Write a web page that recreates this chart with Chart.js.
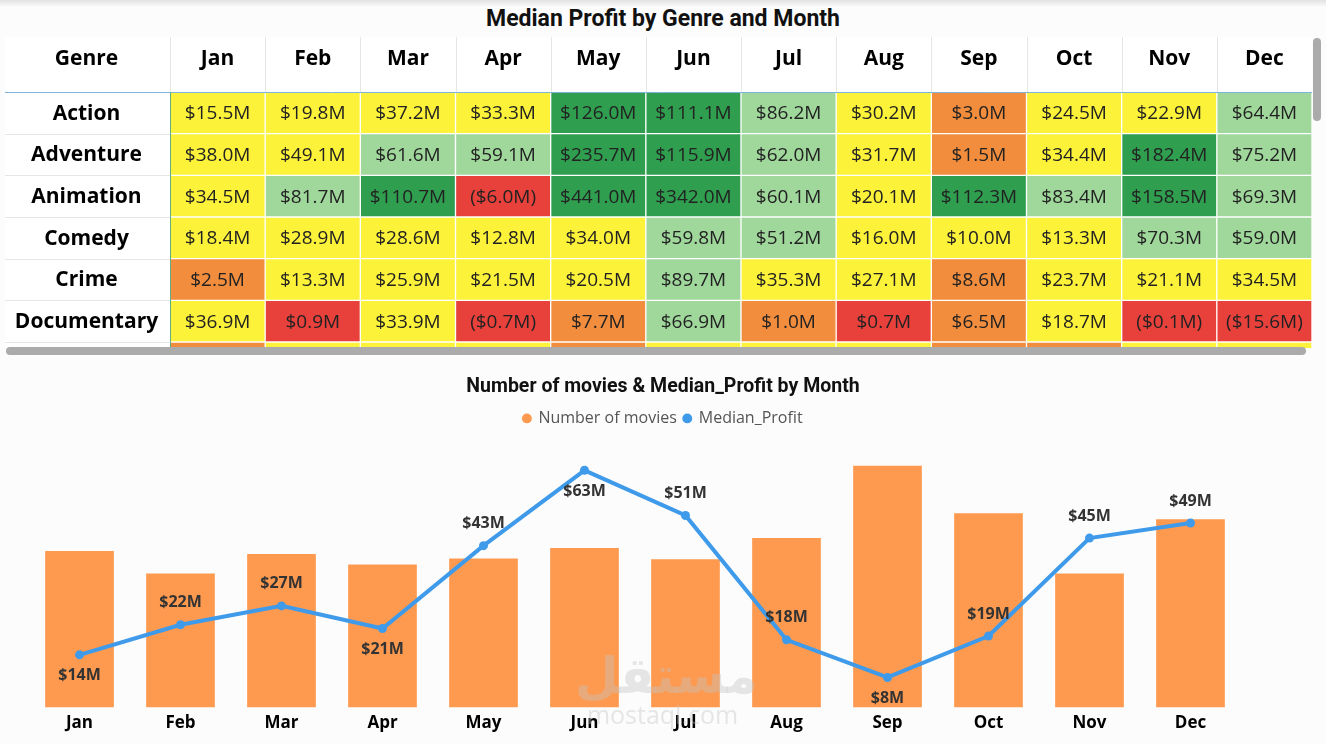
<!DOCTYPE html>
<html>
<head>
<meta charset="utf-8">
<title>Median Profit</title>
<script src="https://cdn.jsdelivr.net/npm/chart.js@4.4.1/dist/chart.umd.min.js"></script>
<style>
html, body { margin: 0; padding: 0; background: #fcfcfc; }
#page { position: relative; width: 1326px; height: 744px; overflow: hidden; background: #fcfcfc; }
#topShadow { position: absolute; left: 0; top: 0; width: 1326px; height: 7px; background: linear-gradient(#e2e2e2, #fcfcfc); }
#title1 { position: absolute; left: 0; top: 5px; width: 1326px; text-align: center; font: 700 23px Roboto, sans-serif; color: #111; }
#heatWrap { position: absolute; left: 5px; top: 37px; width: 1307px; height: 311px; overflow: hidden; background: #fff; }
#hscroll { position: absolute; left: 6px; top: 347px; width: 1300px; height: 8px; border-radius: 4px; background: #ababab; }
#vscroll { position: absolute; left: 1313px; top: 38px; width: 8px; height: 83px; border-radius: 4px; background: #ababab; }
#comboWrap { position: absolute; left: 0; top: 365px; width: 1326px; height: 379px; }
#wm { position: absolute; left: 575px; top: 648px; width: 175px; text-align: center; color: rgba(195,195,195,0.4); pointer-events: none; }
#wm .ar { font: 700 50px "DejaVu Sans", sans-serif; line-height: 56px; }
#wm .en { font: 400 25px "Open Sans", sans-serif; line-height: 20px; }
</style>
</head>
<body>
<div id="page">
  <div id="topShadow"></div>
  <div id="title1">Median Profit by Genre and Month</div>
  <div id="heatWrap"><canvas id="heatChart" width="1307" height="311"></canvas></div>
  <div id="hscroll"></div>
  <div id="vscroll"></div>
  <div id="comboWrap"><canvas id="comboChart" width="1326" height="379"></canvas></div>
  <div id="wm"><div class="ar">مستقل</div><div class="en">mostaql.com</div></div>
</div>
<script>
var months = ['Jan', 'Feb', 'Mar', 'Apr', 'May', 'Jun', 'Jul', 'Aug', 'Sep', 'Oct', 'Nov', 'Dec'];
var genres = ['Action', 'Adventure', 'Animation', 'Comedy', 'Crime', 'Documentary', 'Drama'];

// median profit in $M, one list per genre (Drama is only a sliver, guessed)
var action      = [15.5, 19.8, 37.2, 33.3, 126.0, 111.1, 86.2, 30.2, 3.0, 24.5, 22.9, 64.4];
var adventure   = [38.0, 49.1, 61.6, 59.1, 235.7, 115.9, 62.0, 31.7, 1.5, 34.4, 182.4, 75.2];
var animation   = [34.5, 81.7, 110.7, -6.0, 441.0, 342.0, 60.1, 20.1, 112.3, 83.4, 158.5, 69.3];
var comedy      = [18.4, 28.9, 28.6, 12.8, 34.0, 59.8, 51.2, 16.0, 10.0, 13.3, 70.3, 59.0];
var crime       = [2.5, 13.3, 25.9, 21.5, 20.5, 89.7, 35.3, 27.1, 8.6, 23.7, 21.1, 34.5];
var documentary = [36.9, 0.9, 33.9, -0.7, 7.7, 66.9, 1.0, 0.7, 6.5, 18.7, -0.1, -15.6];
var drama       = [8.2, 14.6, 17.3, 12.1, 9.4, 21.8, 16.5, 13.9, 7.5, 8.8, 19.2, 15.4];
var profitRows = [action, adventure, animation, comedy, crime, documentary, drama];

// bottom chart
var movieCount   = [208, 178, 204, 190, 198, 212, 197, 225, 321, 258, 178, 250];
var medianProfit = [14, 22, 27, 21, 43, 63, 51, 18, 8, 19, 45, 49];

var labelSide = ['below', 'above', 'above', 'below', 'above', 'below', 'above', 'above', 'below', 'above', 'above', 'above'];

function cellColor(v) {
    if (v < 1) return '#e8403b';
    if (v < 10) return '#f18d3d';
    if (v < 50) return '#fdf23a';
    if (v < 100) return '#a0d89c';
    return '#2f9e4f';
}

function money(v) {
    var s = '$' + Math.abs(v).toFixed(1) + 'M';
    return v < 0 ? '(' + s + ')' : s;
}

var visibleRows = 6.145;

// ---------- heatmap ----------
var heatSets = [];
for (var r = 0; r < profitRows.length; r++) {
    (function (r) {
        heatSets.push({
            label: genres[r],
            data: months.map(function () { return [r, r + 1]; }),
            backgroundColor: function (ctx) { return cellColor(profitRows[r][ctx.dataIndex]); },
            borderColor: 'rgba(255,255,255,0.6)',
            borderWidth: 1,
            borderSkipped: false
        });
    })(r);
}

var heatLabels = {
    id: 'heatLabels',
    afterDatasetsDraw: function (chart) {
        var c = chart.ctx, area = chart.chartArea;
        c.save();
        c.beginPath();
        c.rect(area.left, area.top, area.right - area.left, area.bottom - area.top);
        c.clip();
        c.font = '400 19px "Open Sans"';
        c.fillStyle = '#222';
        c.textAlign = 'center';
        c.textBaseline = 'middle';
        chart.data.datasets.forEach(function (ds, r) {
            chart.getDatasetMeta(r).data.forEach(function (el, i) {
                var cy = (el.y + el.base) / 2;
                c.fillText(money(profitRows[r][i]), el.x, cy + 1);
            });
        });
        c.restore();
    },
    afterDraw: function (chart) {
        var c = chart.ctx, area = chart.chartArea, ys = chart.scales.y;
        c.save();
        c.font = '700 21px "Open Sans"';
        c.fillStyle = '#000';
        c.textAlign = 'center';
        c.textBaseline = 'middle';
        c.fillText('Genre', area.left / 2 - 1, 22);
        for (var g = 0; g < genres.length; g++) {
            var gy = ys.getPixelForValue(g + 0.5);
            if (gy > area.bottom) break;
            c.fillText(genres[g], area.left / 2 - 1, gy + 1);
        }
        // header separators
        c.strokeStyle = '#e6e6e6';
        c.lineWidth = 1;
        var step = (area.right - area.left) / months.length;
        for (var i = 0; i < months.length; i++) {
            var x = Math.round(area.left + i * step) + 0.5;
            c.beginPath();
            c.moveTo(x, 0);
            c.lineTo(x, area.top);
            c.stroke();
        }
        // genre column row lines
        for (var j = 1; j <= genres.length; j++) {
            var y = Math.round(ys.getPixelForValue(j)) + 0.5;
            if (y > area.bottom) break;
            c.beginPath();
            c.moveTo(0, y);
            c.lineTo(area.left, y);
            c.stroke();
        }
        c.strokeStyle = '#7fb4da';
        c.beginPath();
        c.moveTo(0, area.top + 0.5);
        c.lineTo(area.right, area.top + 0.5);
        c.stroke();
        c.strokeStyle = '#5fae86';
        c.beginPath();
        c.moveTo(area.left + 0.5, area.top);
        c.lineTo(area.left + 0.5, area.bottom);
        c.stroke();
        c.restore();
    }
};

new Chart(document.getElementById('heatChart').getContext('2d'), {
    type: 'bar',
    data: { labels: months, datasets: heatSets },
    options: {
        responsive: false,
        animation: false,
        layout: { padding: 0 },
        datasets: { bar: { grouped: false, barPercentage: 1, categoryPercentage: 1 } },
        plugins: { legend: { display: false }, tooltip: { enabled: false } },
        scales: {
            x: {
                position: 'top',
                grid: { display: false, drawTicks: false },
                border: { display: false },
                ticks: { color: '#000', font: { family: 'Open Sans', size: 21, weight: '700' }, padding: 20, maxRotation: 0 },
                afterFit: function (s) { s.height = 55; }
            },
            y: {
                reverse: true,
                min: 0,
                max: visibleRows,
                grid: { display: false, drawTicks: false },
                border: { display: false },
                ticks: { display: false },
                afterFit: function (s) { s.width = 165; }
            }
        }
    },
    plugins: [heatLabels]
});

// ---------- combo chart ----------
var lineLabels = {
    id: 'lineLabels',
    afterDatasetsDraw: function (chart) {
        var c = chart.ctx;
        var meta = chart.getDatasetMeta(1);
        c.save();
        c.font = '700 16px "Open Sans"';
        c.fillStyle = '#333';
        c.textAlign = 'center';
        c.textBaseline = 'middle';
        meta.data.forEach(function (pt, i) {
            var dy = labelSide[i] === 'above' ? -22 : 21;
            c.fillText('$' + medianProfit[i] + 'M', pt.x, pt.y + dy);
        });
        c.restore();
    }
};

new Chart(document.getElementById('comboChart').getContext('2d'), {
    type: 'bar',
    data: {
        labels: months,
        datasets: [{
            type: 'bar',
            label: 'Number of movies',
            data: movieCount,
            backgroundColor: '#fe9a4f',
            barPercentage: 0.68,
            categoryPercentage: 1,
            yAxisID: 'y',
            order: 2
        }, {
            type: 'line',
            label: 'Median_Profit',
            data: medianProfit,
            borderColor: '#3f9bea',
            backgroundColor: '#3f9bea',
            borderWidth: 4,
            pointRadius: 4.5,
            pointBackgroundColor: '#3f9bea',
            pointBorderWidth: 0,
            tension: 0,
            yAxisID: 'y1',
            order: 1
        }]
    },
    options: {
        responsive: false,
        animation: false,
        layout: { padding: { left: 29, right: 29, top: 0, bottom: 6 } },
        plugins: {
            title: {
                display: true,
                text: 'Number of movies & Median_Profit by Month',
                color: '#111',
                font: { family: 'Roboto', size: 19.5, weight: '700' },
                padding: { top: 10, bottom: 5 }
            },
            legend: {
                display: true,
                labels: {
                    usePointStyle: true,
                    pointStyle: 'circle',
                    boxWidth: 7,
                    boxHeight: 7,
                    padding: 7,
                    color: '#555',
                    font: { family: 'Open Sans', size: 16 },
                    sort: function (a, b) { return a.datasetIndex - b.datasetIndex; }
                }
            },
            tooltip: { enabled: false }
        },
        scales: {
            x: {
                grid: { display: false, drawTicks: false },
                border: { display: false },
                ticks: { color: '#000', font: { family: 'Open Sans', size: 17, weight: '700' }, padding: 5 }
            },
            y: { display: false, min: 0, max: 360 },
            y1: {
                min: 0,
                max: 72,
                position: 'right',
                grid: { display: false },
                border: { display: false },
                ticks: { display: false },
                afterFit: function (s) { s.width = 56; }
            }
        }
    },
    plugins: [lineLabels]
});
</script>
</body>
</html>
